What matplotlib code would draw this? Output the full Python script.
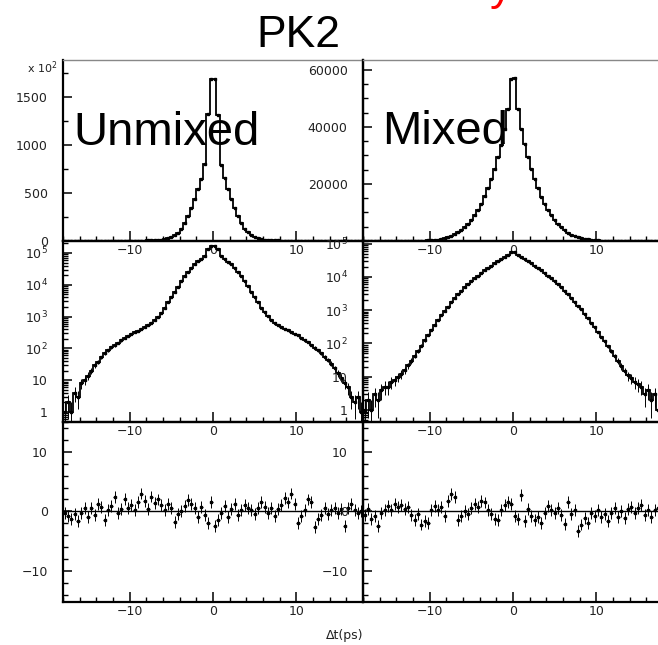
import numpy as np
import matplotlib.pyplot as plt
from matplotlib.ticker import MultipleLocator, FixedLocator, FixedFormatter, LogLocator, NullFormatter

plt.rcParams['font.family'] = ['DejaVu Sans']
plt.rcParams['mathtext.fontset'] = 'dejavusans'

W, H = 658, 645
TICK_COLOR = '#222222'
BIG_FONT = ['Liberation Sans', 'DejaVu Sans']

# 0.4 ps bins from -18 to 18 ps (90 bins)
edges = np.linspace(-18, 18, 91)
centers = 0.5 * (edges[:-1] + edges[1:])

# event counts per bin, unmixed sample
unmixed = [1, 2, 1, 4, 3, 8, 10, 14, 20, 30, 38, 52, 70, 86, 108,
           125, 150, 178, 210, 240, 278, 318, 360, 405, 455, 530, 630, 770, 990, 1330,
           1880, 2780, 4080, 5950, 8750, 12700, 18400, 25900, 34200, 44100,
           54300, 65200, 80400, 132500, 169200,
           168800, 131800, 79800, 65400, 53900, 43800, 34500, 26100, 18600, 12900,
           8900, 6050, 4150, 2830, 1920, 1360, 1010, 790, 645, 545,
           470, 415, 368, 330, 290, 255, 220, 190, 160, 128,
           106, 88, 70, 55, 43, 33, 24, 17, 12, 8, 6, 3, 2, 3, 1]

# event counts per bin, mixed sample
mixed = [1, 2, 1, 3, 2, 4, 5, 5, 7, 8, 10, 12, 16, 22, 30,
         43, 60, 86, 125, 180, 255, 360, 500, 690, 940, 1280, 1720, 2300, 3000, 3850,
         4850, 6000, 7400, 9000, 10900, 13100, 15700, 18600, 21800, 25400,
         29300, 33800, 39200, 46400, 56900,
         57100, 46200, 39400, 33900, 29400, 25300, 21700, 18500, 15600, 13000,
         10800, 8950, 7350, 5950, 4800, 3800, 2950, 2250, 1750, 1360,
         1050, 780, 570, 420, 305, 220, 160, 115, 82, 58,
         42, 30, 21, 15, 11, 9, 7, 6, 5, 3, 4, 2, 3, 1, 2]

# fit residuals per bin
res_unmixed = [-0.3, -0.8, -1.2, -0.5, -1.6, -0.2, 0.6, -0.9, 0.5, -0.6,
               1.2, 0.8, -1.5, 0.3, 0.9, 2.4, -0.2, 0.4, 2.1, 0.6,
               1.0, 0.2, 1.6, 3.0, 1.8, 0.4, 2.5, 1.4, 2.0, 1.1,
               0.3, 1.2, 0.6, -1.8, -0.4, 0.1, 0.9, 1.9, 1.2, 0.5,
               -0.9, 0.7, -0.6, -1.9, 1.6,
               -2.4, -1.5, -0.3, 0.9, -1.0, 0.4, 1.2, -0.6, 0.2, 1.0,
               0.5, 0.3, -0.4, 0.6, 1.6, 0.8, -0.2, 0.5, -0.7, 0.4,
               1.0, 2.2, 1.5, 3.0, 1.3, -2.0, -0.8, 0.2, 2.0, 1.6,
               -2.6, -1.3, -0.6, 0.5, -0.4, 0.2, 0.6, -0.3, 0.4, -2.4,
               0.6, 1.2, 0.3, -0.2, 0.1]
res_mixed = [-0.6, 0.4, -1.3, -0.8, -2.4, -0.3, 0.3, 0.9, 0.2, 1.2,
             0.8, 1.1, 0.4, 0.7, -0.6, -1.4, -0.5, -2.2, -1.6, -2.0,
             0.3, 0.9, 0.2, 0.7, -0.8, 1.8, 2.9, 2.4, -1.5, -0.7,
             0.1, -0.4, 0.6, 1.2, 0.8, 1.7, 1.5, 0.2, -0.5, -1.2,
             -1.5, 0.3, 1.0, 1.6, 1.3,
             -0.8, -1.2, 2.7, -1.6, 0.4, -0.7, -1.4, -0.9, -2.0, -0.3,
             0.9, 0.2, -0.2, 0.5, -0.6, -2.1, 1.6, -0.4, 0.2, -3.3,
             -2.2, -1.1, -2.0, -0.2, -0.8, 0.3, -1.0, -0.5, -1.6, -0.3,
             0.6, -0.9, 0.1, -1.1, 0.4, 0.8, -0.2, 0.6, 1.0, -0.6,
             0.2, -1.0, 0.3, 0.5, -0.4]
RES_ERR = 1.0

x_ticks = [-10, 0, 10]
log_ticks = [1, 10, 100, 1e3, 1e4, 1e5]
log_labels = ['1', '10'] + [r'$\mathregular{10^{%d}}$' % k for k in range(2, 6)]

fig = plt.figure(figsize=(6.58, 6.45), dpi=100)


def px_axes(x0, y0, x1, y1):
    ax = fig.add_axes([x0 / W, 1 - y1 / H, (x1 - x0) / W, (y1 - y0) / H])
    # transparent so the tick labels of the row above stay visible
    ax.patch.set_visible(False)
    return ax


def style(ax):
    ax.set_xlim(-18, 18)
    for s in ax.spines.values():
        s.set_linewidth(1.6)
        s.set_color('black')
    ax.xaxis.set_major_locator(FixedLocator(x_ticks))
    ax.xaxis.set_minor_locator(MultipleLocator(2))
    ax.tick_params(which='both', direction='in', top=False, right=False,
                   labelcolor=TICK_COLOR, labelsize=9)
    ax.tick_params(axis='x', which='major', length=7, width=1.1, pad=2.5)
    ax.tick_params(axis='x', which='minor', length=3.5, width=1.0)
    ax.tick_params(axis='y', which='major', length=6.5, width=1.1, pad=11)
    ax.tick_params(axis='y', which='minor', length=3.5, width=1.0)


def draw_hist(ax, vals, scale=1.0, log=False):
    vals = np.array(vals, dtype=float)
    err = np.sqrt(vals)
    lo = np.minimum(err, vals * 0.9) if log else err
    ax.stairs(vals / scale, edges, color='black', lw=1.3)
    ax.errorbar(centers, vals / scale, yerr=[lo / scale, err / scale], xerr=0.2,
                fmt='s', ms=1.9, color='black', elinewidth=0.7, capsize=0)


def draw_res(ax, res):
    ax.axhline(0, color='black', lw=1.0)
    ax.errorbar(centers, res, yerr=RES_ERR, xerr=0.2, fmt='s', ms=2,
                color='black', elinewidth=0.7, capsize=0)
    ax.set_ylim(-15.2, 15)
    ax.yaxis.set_major_locator(FixedLocator([-10, 0, 10]))
    ax.yaxis.set_minor_locator(MultipleLocator(2))


# top row: linear
ax1 = px_axes(63, 60, 363, 241)
draw_hist(ax1, unmixed, scale=100)
ax1.set_ylim(0, 1890)
ax1.yaxis.set_major_locator(FixedLocator([0, 500, 1000, 1500]))
ax1.yaxis.set_minor_locator(MultipleLocator(250))

ax2 = px_axes(363, 60, 663, 241)
draw_hist(ax2, mixed)
ax2.set_ylim(0, 63500)
ax2.yaxis.set_major_locator(FixedLocator([20000, 40000, 60000]))
ax2.yaxis.set_major_formatter(FixedFormatter(['20000', '40000', '60000']))
ax2.yaxis.set_minor_locator(MultipleLocator(5000))

# middle row: log
ax3 = px_axes(63, 241, 363, 422)
ax3.set_yscale('log')
draw_hist(ax3, unmixed, log=True)
ax3.set_ylim(0.485, 2.38e5)

ax4 = px_axes(363, 241, 663, 422)
ax4.set_yscale('log')
draw_hist(ax4, mixed, log=True)
ax4.set_ylim(0.436, 1.19e5)

for ax in (ax3, ax4):
    ax.yaxis.set_major_locator(FixedLocator(log_ticks))
    ax.yaxis.set_major_formatter(FixedFormatter(log_labels))
    ax.yaxis.set_minor_locator(LogLocator(subs=range(2, 10)))
    ax.yaxis.set_minor_formatter(NullFormatter())

# bottom row: residuals
ax5 = px_axes(63, 422, 363, 602)
draw_res(ax5, res_unmixed)
ax6 = px_axes(363, 422, 663, 602)
draw_res(ax6, res_mixed)

for ax in (ax1, ax2, ax3, ax4, ax5, ax6):
    style(ax)
for ax in (ax1, ax2):
    ax.spines['top'].set_color('#888888')
    ax.spines['top'].set_linewidth(1.0)

fig.text(58 / W, 1 - 68 / H, r'x $\mathregular{10^2}$', ha='right', va='center',
         fontsize=8, color=TICK_COLOR)
fig.text(363 / W, 1 - 635 / H, 'Δt(ps)', ha='right', va='center', fontsize=9,
         color=TICK_COLOR)

fig.text(298 / W, 1 - 47 / H, 'PK2', ha='center', va='baseline', fontsize=32,
         family=BIG_FONT)
fig.text(501 / W, 1.0, 'y', ha='center', va='baseline', fontsize=32,
         family=BIG_FONT, color='red')
fig.text(73 / W, 1 - 145 / H, 'Unmixed', ha='left', va='baseline', fontsize=34,
         family=BIG_FONT, zorder=10)
fig.text(382 / W, 1 - 144 / H, 'Mixed', ha='left', va='baseline', fontsize=34,
         family=BIG_FONT, zorder=10)

fig.savefig('out.png', dpi=100)
